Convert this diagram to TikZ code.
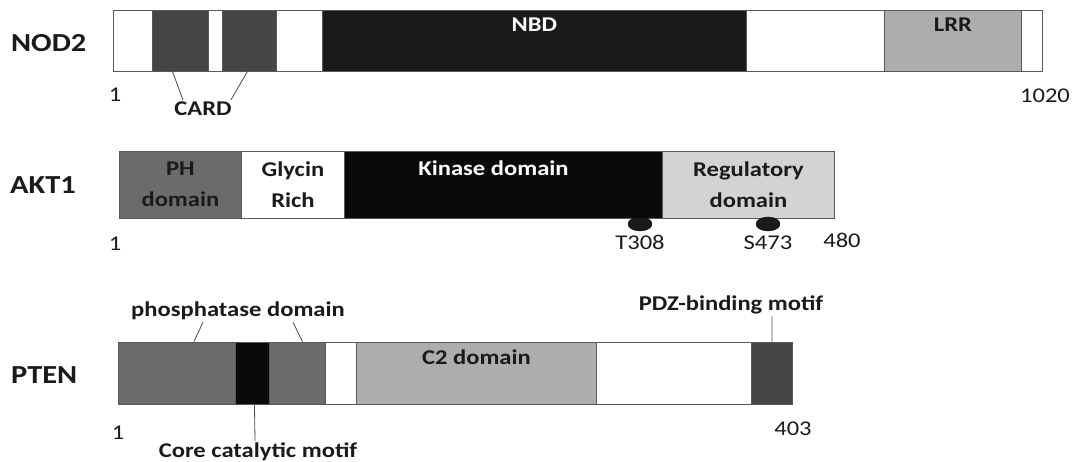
\documentclass[tikz,border=0pt]{standalone}
\usepackage{fontspec}
\setmainfont{Carlito}[FakeStretch=1.17]
\usetikzlibrary{positioning}
\usetikzlibrary{shapes.geometric}

\definecolor{cardgray}{HTML}{454545}
\definecolor{phgray}{HTML}{6B6B6B}
\definecolor{lrrgray}{HTML}{ADADAD}
\definecolor{reggray}{HTML}{D3D3D3}
\definecolor{nbdblack}{HTML}{1A1A1A}
\definecolor{kinblack}{HTML}{0A0A0A}
\definecolor{txt}{HTML}{1A1A1A}

\newcommand\protfont{\fontsize{26}{30}\selectfont\bfseries}
\newcommand\domfont{\fontsize{21}{31}\selectfont\bfseries}
\newcommand\numfont{\fontsize{21}{25}\selectfont}

\tikzset{
    dom/.style={draw=black!65, line width=0.9pt, inner sep=0pt, anchor=west, font=\domfont, text=txt, align=center},
    nodbar/.style={minimum height=61pt},
    aktbar/.style={minimum height=67pt},
    ptenbar/.style={minimum height=62pt},
    prot/.style={font=\protfont, text=txt, anchor=west, inner sep=0pt},
    lbl/.style={font=\domfont, text=txt, inner sep=2pt},
    num/.style={font=\numfont, text=txt, inner sep=2pt},
    site/.style={ellipse, fill=txt, draw=black, minimum width=24pt, minimum height=14pt, inner sep=0pt},
    lead/.style={draw=black!70, line width=0.8pt}
}

\begin{document}
\begin{tikzpicture}[x=1pt,y=-1pt]
\useasboundingbox (0,0) rectangle (1076,461);

% NOD2
\node[prot] (nod2) at (11,43) {NOD2};
\node[dom, nodbar, fill=white, minimum width=39pt] (nod-a) at (113,40.5) {};
\node[dom, nodbar, fill=cardgray, minimum width=56pt] (nod-card1) at (152,40.5) {};
\node[dom, nodbar, fill=white, minimum width=14pt] (nod-b) at (208,40.5) {};
\node[dom, nodbar, fill=cardgray, minimum width=54pt] (nod-card2) at (222,40.5) {};
\node[dom, nodbar, fill=white, minimum width=46pt] (nod-c) at (276,40.5) {};
\node[dom, nodbar, fill=nbdblack, minimum width=424pt] (nod-nbd) at (322,40.5) {};
\node[dom, nodbar, fill=white, minimum width=138pt] (nod-d) at (746,40.5) {};
\node[dom, nodbar, fill=lrrgray, minimum width=137pt] (nod-lrr) at (884,40.5) {};
\node[dom, nodbar, fill=white, minimum width=21pt] (nod-e) at (1021,40.5) {};
\node[lbl, white, below=6pt of nod-nbd.north] (nbd-lbl) {NBD};
\node[lbl, below=6pt of nod-lrr.north] (lrr-lbl) {LRR};
\node[num] (nod-first) at (115,95) {1};
\node[num] (nod-last) at (1045,96) {1020};
\node[lbl] (card-lbl) at (203,109) {CARD};
\draw[lead] ([xshift=-8pt]nod-card1.south) -- ([xshift=-20pt]card-lbl.north);
\draw[lead] ([xshift=-2pt]nod-card2.south) -- ([xshift=28pt]card-lbl.north);

% AKT1
\node[prot] (akt1) at (10,185) {AKT1};
\node[dom, aktbar, fill=phgray, minimum width=122pt] (akt-ph) at (119,184.5) {PH\\domain};
\node[dom, aktbar, fill=white, minimum width=103pt] (akt-gly) at (241,184.5) {Glycin\\Rich};
\node[dom, aktbar, fill=kinblack, minimum width=318pt] (akt-kin) at (344,184.5) {};
\node[dom, aktbar, fill=reggray, minimum width=172pt] (akt-reg) at (662,184.5) {Regulatory\\domain};
\node[lbl, white, below=8pt of akt-kin.north, xshift=-10pt] (kin-lbl) {Kinase domain};
\node[site, label={[num, label distance=2pt]below:T308}] (t308) at (640,224) {};
\node[site, label={[num, label distance=2pt]below:S473}] (s473) at (768,224) {};
\node[num] (akt-first) at (115,244) {1};
\node[num] (akt-last) at (842,240) {480};

% PTEN
\node[prot] (pten) at (11,375) {PTEN};
\node[dom, ptenbar, fill=phgray, minimum width=117pt] (pten-ph1) at (118,373) {};
\node[dom, ptenbar, fill=kinblack, minimum width=34pt] (pten-core) at (235,373) {};
\node[dom, ptenbar, fill=phgray, minimum width=56pt] (pten-ph2) at (269,373) {};
\node[dom, ptenbar, fill=white, minimum width=31pt] (pten-a) at (325,373) {};
\node[dom, ptenbar, fill=lrrgray, minimum width=240pt] (pten-c2) at (356,373) {};
\node[dom, ptenbar, fill=white, minimum width=155pt] (pten-b) at (596,373) {};
\node[dom, ptenbar, fill=cardgray, minimum width=41pt] (pten-pdz) at (751,373) {};
\node[lbl, below=6pt of pten-c2.north] (c2-lbl) {C2 domain};
\node[lbl] (phos-lbl) at (238,311) {phosphatase domain};
\node[lbl] (core-lbl) at (258,452) {Core catalytic motif};
\node[lbl] (pdz-lbl) at (731,305) {PDZ-binding motif};
\node[num] (pten-first) at (118,433) {1};
\node[num] (pten-last) at (793,429) {403};
\draw[lead] ([xshift=17pt]pten-ph1.north) -- ([xshift=-35pt]phos-lbl.south);
\draw[lead] ([xshift=5pt]pten-ph2.north) -- ([xshift=55pt]phos-lbl.south);
\draw[lead] ([xshift=2pt]pten-core.south) -- ([xshift=-3pt]core-lbl.north);
\draw[lead] (pten-pdz.north) -- ([xshift=41pt]pdz-lbl.south);

\end{tikzpicture}
\end{document}
